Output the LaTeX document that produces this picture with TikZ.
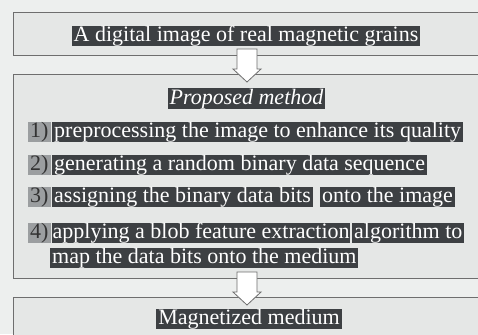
\documentclass[tikz,border=0pt]{standalone}
\usepackage{fontspec}
\setmainfont{Liberation Serif}
\usetikzlibrary{calc}
\definecolor{bgc}{HTML}{EDEFEE}
\definecolor{boxc}{HTML}{E5E7E6}
\definecolor{edgec}{HTML}{6E6E6E}
\definecolor{hlc}{HTML}{3D4043}
\definecolor{numc}{HTML}{9B9EA0}
\begin{document}
\begin{tikzpicture}[x=1pt,y=-1pt,
  frame/.style={draw=edgec, line width=0.9pt, fill=boxc, anchor=north west, minimum width=482pt, inner sep=0pt},
  hl/.style={fill=hlc, text=white, font=\rmfamily\fontsize{22}{26}\selectfont, inner xsep=2pt, inner ysep=0pt, text height=15.5pt, text depth=4.5pt},
  num/.style={hl, fill=numc, text=black!80, anchor=west},
  item/.style={hl, anchor=west},
  blockarrow/.style={draw=edgec, line width=0.8pt, fill=white, line join=miter}]
\useasboundingbox (0,0) rectangle (478,334);
\clip (0,0) rectangle (478,334);
\fill[bgc] (0,0) rectangle (478,334);
% boxes
\node[frame, minimum height=43pt] (box1) at (13,12) {};
\node[frame, minimum height=204pt] (box2) at (13,74) {};
\node[frame, minimum height=48pt] (box3) at (13,297) {};
% texts
\node[hl] (title) at (246,36) {A digital image of real magnetic grains};
\node[hl, font=\rmfamily\fontsize{22}{26}\selectfont\itshape] (pm) at (246.5,98.5) {Proposed method};
\node[num] (n1) at (28,132) {1)};
\node[item] (l1) at (52,132) {preprocessing the image to enhance its quality};
\node[num] (n2) at (28,164.5) {2)};
\node[item] (l2) at (52,164.5) {generating a random binary data sequence};
\node[num] (n3) at (28,196.5) {3)};
\node[item] (l3a) at (52,196.5) {assigning the binary data bits};
\node[item] (l3b) at (320,196.5) {onto the image};
\node[num] (n4) at (28,233) {4)};
\node[item, inner xsep=0.5pt] (l4a) at (52,233) {applying a blob feature extraction};
\node[item] (l4b) at (352,233) {algorithm to};
\node[item] (l5) at (50,257.5) {map the data bits onto the medium};
\node[hl] (mag) at (249,319) {Magnetized medium};
% block arrows
\coordinate (a1) at (247,55);
\coordinate (a2) at (247,278);
\draw[blockarrow] ($(a1)+(-10,-6)$) -- ++(20,0) -- ++(0,20) -- ++(4,0) -- ($(a1)+(0,27)$) -- ($(a1)+(-14,14)$) -- ++(4,0) -- cycle;
\draw[blockarrow] ($(a2)+(-10,-6)$) -- ++(20,0) -- ++(0,20) -- ++(4,0) -- ($(a2)+(0,27)$) -- ($(a2)+(-14,14)$) -- ++(4,0) -- cycle;
\end{tikzpicture}
\end{document}
